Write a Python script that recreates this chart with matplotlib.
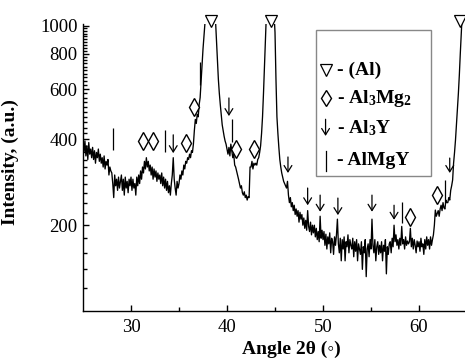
"""
XRD pattern with phase markers - values read off the figure by hand.
"""
import numpy as np
import matplotlib
matplotlib.use("Agg")
import matplotlib.pyplot as plt
from matplotlib.ticker import FixedLocator, FuncFormatter, NullFormatter
from matplotlib.patches import Rectangle

plt.rcParams['font.family'] = ['Liberation Serif', 'DejaVu Sans']
plt.rcParams['mathtext.fontset'] = 'custom'
plt.rcParams['mathtext.bf'] = 'Liberation Serif:bold'
plt.rcParams['mathtext.rm'] = 'Liberation Serif'
plt.rcParams['mathtext.default'] = 'bf'

# 2theta from 25 to 65 in 0.1 steps, one row per degree
angle_start = 25.0
angle_step = 0.1
intensity_rows = [
    [400, 360, 395, 350, 380, 340, 390, 355, 370, 345],   # 25
    [375, 340, 365, 330, 360, 345, 370, 335, 355, 330],   # 26
    [345, 320, 350, 315, 335, 325, 340, 300, 320, 310],   # 27
    [305, 280, 250, 300, 275, 290, 265, 295, 270, 285],   # 28
    [300, 265, 290, 255, 295, 270, 285, 260, 290, 275],   # 29
    [295, 265, 290, 270, 280, 255, 295, 275, 300, 280],   # 30
    [310, 290, 320, 305, 335, 315, 345, 320, 335, 310],   # 31
    [325, 300, 320, 290, 315, 295, 310, 285, 305, 290],   # 32
    [300, 280, 305, 275, 295, 270, 290, 265, 285, 260],   # 33
    [275, 255, 280, 300, 345, 290, 270, 255, 285, 270],   # 34
    [280, 300, 290, 310, 300, 325, 315, 335, 330, 345],   # 35
    [340, 355, 345, 365, 360, 385, 430, 470, 455, 490],   # 36
    [480, 530, 560, 640, 730, 830, 920, 1020, 1250, 1500],   # 37
    [1800, 2100, 2400, 2500, 2200, 1800, 1500, 1250, 1050, 900],   # 38
    [760, 650, 580, 530, 490, 450, 430, 410, 395, 385],   # 39
    [370, 355, 375, 350, 385, 365, 345, 355, 325, 320],   # 40
    [310, 300, 290, 280, 270, 275, 260, 255, 262, 250],   # 41
    [255, 245, 252, 250, 320, 320, 335, 315, 330, 325],   # 42
    [330, 325, 340, 345, 360, 380, 420, 480, 580, 720],   # 43
    [900, 1100, 1500, 2000, 2500, 2800, 2500, 1900, 1400, 1100],   # 44
    [950, 650, 480, 420, 375, 340, 320, 305, 295, 285],   # 45
    [280, 275, 270, 285, 255, 240, 250, 232, 240, 225],   # 46
    [235, 218, 228, 215, 225, 205, 222, 210, 218, 200],   # 47
    [212, 195, 208, 192, 225, 198, 190, 205, 185, 200],   # 48
    [188, 200, 182, 195, 178, 190, 175, 215, 180, 192],   # 49
    [178, 190, 170, 186, 165, 182, 172, 188, 160, 180],   # 50
    [175, 158, 182, 170, 185, 210, 172, 160, 180, 150],   # 51
    [178, 165, 182, 150, 175, 168, 185, 160, 178, 170],   # 52
    [165, 180, 155, 175, 162, 178, 150, 172, 165, 158],   # 53
    [175, 140, 168, 160, 178, 132, 165, 172, 155, 178],   # 54
    [165, 210, 170, 160, 178, 150, 168, 175, 158, 170],   # 55
    [160, 175, 150, 170, 162, 178, 135, 168, 158, 172],   # 56
    [175, 160, 180, 168, 200, 175, 185, 170, 178, 165],   # 57
    [180, 170, 198, 172, 178, 165, 182, 170, 176, 172],   # 58
    [175, 195, 168, 180, 165, 178, 170, 160, 176, 168],   # 59
    [175, 162, 180, 168, 172, 158, 178, 165, 182, 170],   # 60
    [178, 165, 182, 170, 178, 185, 200, 226, 215, 220],   # 61
    [225, 215, 228, 235, 225, 240, 230, 228, 245, 240],   # 62
    [240, 250, 245, 265, 275, 288, 330, 360, 398, 450],   # 63
    [507, 580, 673, 800, 930, 1100, 1300, 1500, 1700, 1900],   # 64
    [2100],   # 65
]

# phase markers: (Al) triangles, Al3Mg2 diamonds, Al3Y arrows, AlMgY bars
al_x = [38.35, 44.58, 64.27]
al_y = [1040, 1040, 1040]
al3mg2_x = [31.25, 32.3, 35.7, 36.6, 40.9, 42.8, 59.1, 61.9]
al3mg2_y = [395, 395, 389, 520, 370, 370, 214, 255]
al3y_x = [34.4, 40.2, 46.35, 48.4, 49.7, 51.55, 55.1, 57.4, 63.2]
al3y_top = [415, 559, 347, 270, 255, 249, 255, 235, 344]
al3y_tip = [358, 483, 305, 235, 223, 217, 223, 209, 305]
almgy_x = [28.1, 33.5, 37.2, 40.5, 58.2, 62.7]
almgy_low = [367, 361, 621, 392, 204, 239]
almgy_high = [438, 432, 748, 472, 241, 288]

y_major = [200, 400, 600, 800, 1000]
x_major = [30, 40, 50, 60]
x_minor = [35, 45, 55]

intensity = np.array([v for row in intensity_rows for v in row], dtype=float)
angle = angle_start + angle_step * np.arange(len(intensity))

fig = plt.figure(figsize=(4.65, 3.59), dpi=100)
ax = fig.add_axes([83 / 465, 48 / 359, 382 / 465, 287 / 359])

ax.plot(angle, intensity, color="k", linewidth=0.95)
ax.set_yscale("log")
ax.set_xlim(25, 64.79)
ax.set_ylim(100, 1016)

# markers above the pattern
ax.plot(al_x, al_y, "v", ms=8, mfc="white", mec="k", mew=0.9, clip_on=False)
ax.plot(al3mg2_x, al3mg2_y, "d", ms=9, mfc="white", mec="k", mew=1.0, clip_on=False)
for x, top, tip in zip(al3y_x, al3y_top, al3y_tip):
    ax.annotate("", xy=(x, tip), xytext=(x, top),
                arrowprops=dict(arrowstyle="->,head_length=0.45,head_width=0.28",
                                lw=0.9, color="k", shrinkA=0, shrinkB=0))
ax.vlines(almgy_x, almgy_low, almgy_high, color="k", linewidth=0.9)

# ticks
ax.yaxis.set_major_locator(FixedLocator(y_major))
ax.yaxis.set_major_formatter(FuncFormatter(lambda v, p: "%d" % v))
ax.yaxis.set_minor_locator(FixedLocator([v for v in range(120, 1000, 20) if v not in y_major]))
ax.yaxis.set_minor_formatter(NullFormatter())
ax.xaxis.set_major_locator(FixedLocator(x_major))
ax.xaxis.set_minor_locator(FixedLocator(x_minor))
ax.tick_params(which="both", direction="in", labelsize=13.5, width=1.0)
ax.tick_params(which="major", length=4.5)
ax.tick_params(which="minor", length=2.8)
ax.tick_params(axis="y", pad=4)
ax.tick_params(axis="x", pad=6)

for side in ["top", "right"]:
    ax.spines[side].set_visible(False)
for side in ["left", "bottom"]:
    ax.spines[side].set_linewidth(1.0)

ax.set_ylabel("Intensity, (a.u.)", fontsize=14, fontweight="bold")
ax.yaxis.set_label_coords(-0.168, 0.52)
ax.set_xlabel("Angle 2θ (◦)", fontsize=14, fontweight="bold")
ax.xaxis.set_label_coords(0.545, -0.105)

# hand made legend box
ax.add_patch(Rectangle((0.610, 0.470), 0.301, 0.509, transform=ax.transAxes,
                       fill=False, edgecolor="#888888", linewidth=1.0, clip_on=False))
sym_x = 0.635
txt_x = 0.664
rows_y = [0.840, 0.742, 0.638, 0.523]
ax.plot([sym_x], [rows_y[0]], "v", ms=8, mfc="white", mec="k", mew=0.9,
        transform=ax.transAxes, clip_on=False)
ax.plot([sym_x], [rows_y[1]], "d", ms=8.5, mfc="white", mec="k", mew=1.0,
        transform=ax.transAxes, clip_on=False)
ax.annotate("", xy=(sym_x, rows_y[2] - 0.028), xytext=(sym_x, rows_y[2] + 0.03),
            xycoords="axes fraction", textcoords="axes fraction",
            arrowprops=dict(arrowstyle="->,head_length=0.45,head_width=0.28",
                            lw=0.9, color="k", shrinkA=0, shrinkB=0))
ax.plot([sym_x, sym_x], [rows_y[3] - 0.035, rows_y[3] + 0.035], color="k",
        linewidth=0.9, transform=ax.transAxes, clip_on=False)

labels = ["- (Al)", "- Al$_3$Mg$_2$", "- Al$_3$Y", "- AlMgY"]
for y, lab in zip(rows_y, labels):
    ax.text(txt_x, y, lab, transform=ax.transAxes, fontsize=14,
            fontweight="bold", va="center", ha="left")

fig.savefig("out.png", dpi=100)
